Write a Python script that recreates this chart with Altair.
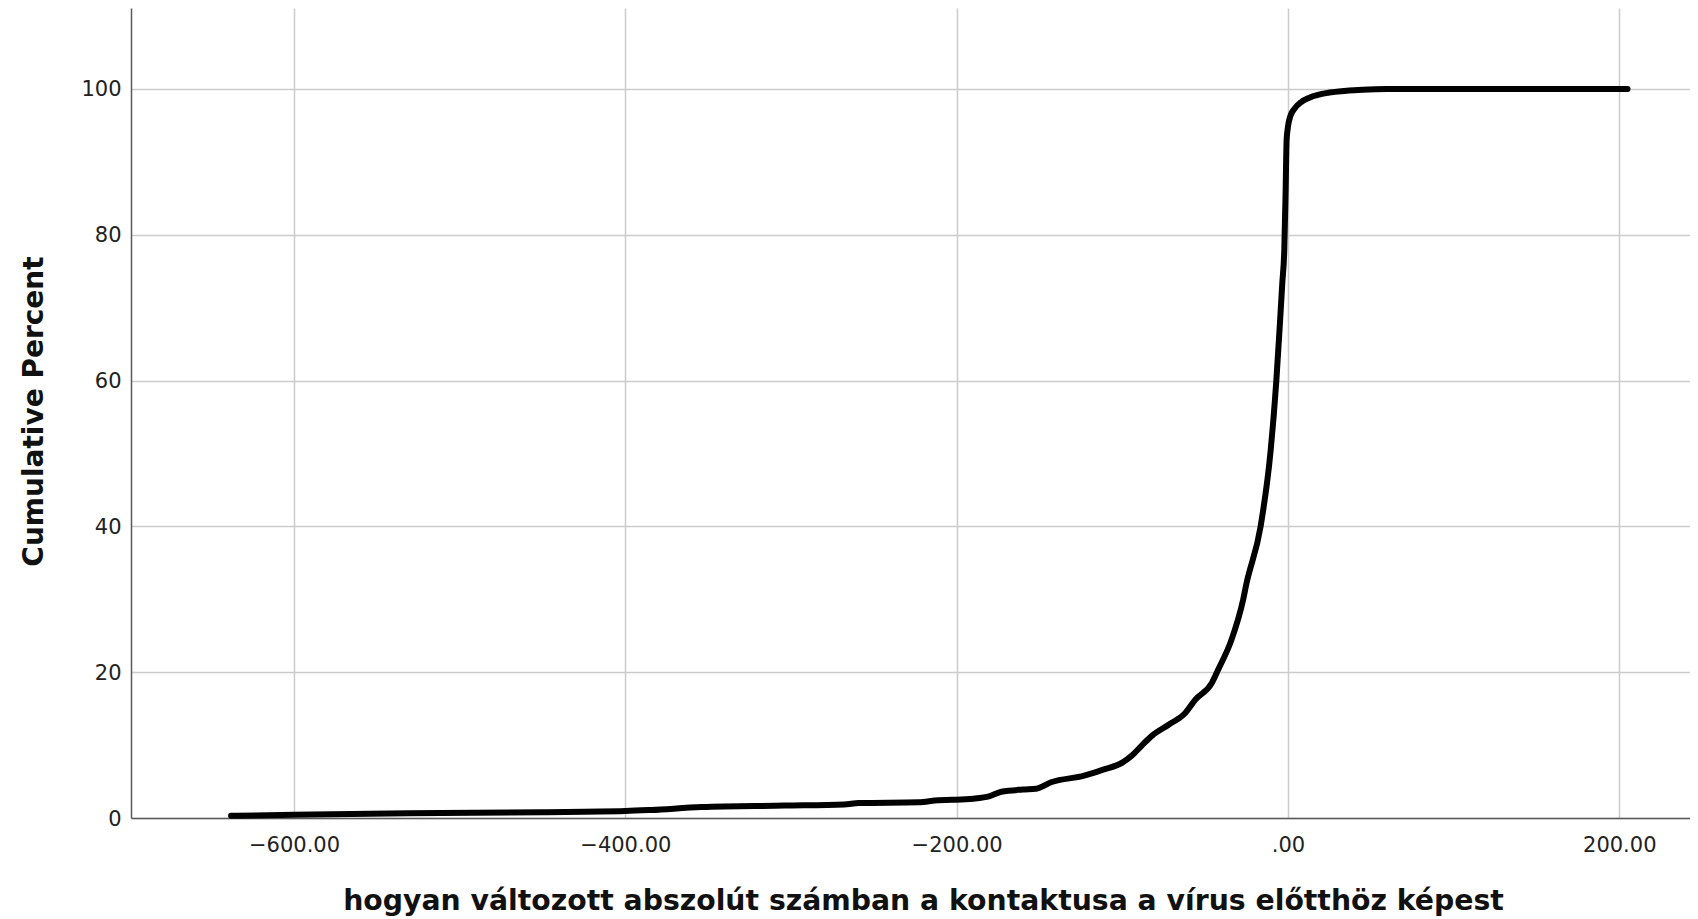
import altair as alt
import pandas as pd

# change in absolute number of contacts (x) and cumulative percent (y)
change_values = [-638, -600, -531, -450, -400, -384, -354, -304, -268, -259,
                 -223, -211, -203, -190, -180, -173, -160, -152, -143, -123,
                 -112, -100, -94, -88, -82, -72, -62, -56, -46, -42,
                 -34, -27, -25, -16.5, -10.4, -7, -4.6, -3.4, -2.2, -1.4,
                 -0.8, 0, 1.5, 4, 8, 13, 25, 45, 60, 205]
cumulative_percent = [0.3, 0.45, 0.65, 0.8, 0.95, 1.1, 1.5, 1.7, 1.85, 2.05,
                      2.15, 2.45, 2.5, 2.65, 3.0, 3.6, 3.9, 4.0, 4.9, 5.8,
                      6.6, 7.6, 8.6, 10.0, 11.3, 12.8, 14.4, 16.2, 18.5, 20.4,
                      24.5, 30.0, 32.2, 40.0, 50.5, 60.0, 68.8, 73.4, 78.0, 86.0,
                      93.0, 94.8, 96.3, 97.3, 98.2, 98.8, 99.5, 99.9, 100.0, 100.0]

x_ticks = [-600, -400, -200, 0, 200]
y_ticks = [0, 20, 40, 60, 80, 100]

x_title = "hogyan változott abszolút számban a kontaktusa a vírus előtthöz képest"
y_title = "Cumulative Percent"

df = pd.DataFrame({"x": change_values, "y": cumulative_percent})

FONT = "DejaVu Sans"

chart = alt.Chart(df).mark_line(
    color="black", strokeWidth=6, interpolate="monotone",
    strokeCap="round", strokeJoin="round"
).encode(
    x=alt.X("x:Q",
            scale=alt.Scale(domain=[-698.4, 242.7], nice=False, zero=False),
            axis=alt.Axis(values=x_ticks, title=x_title,
                          labelExpr="datum.value == 0 ? '.00' : format(datum.value, '.2f')",
                          ticks=False, labelPadding=16, labelFontSize=21, labelFont=FONT,
                          labelColor="#222222", labelFlush=False,
                          titleFont=FONT, titleFontSize=28.3, titleFontWeight="bold",
                          titleColor="#111111", titleX=792, titleY=91,
                          titleBaseline="alphabetic", titleAlign="center",
                          grid=True, gridColor="#cccccc", gridWidth=1.5,
                          domainColor="#5a5a5a", domainWidth=1.5)),
    y=alt.Y("y:Q",
            scale=alt.Scale(domain=[0, 111.1], nice=False, zero=True),
            axis=alt.Axis(values=y_ticks, title=y_title, format="d",
                          ticks=False, labelPadding=10, labelFontSize=21, labelFont=FONT,
                          labelColor="#222222", labelFlush=False, labelOffset=1,
                          titleFont=FONT, titleFontSize=28, titleFontWeight="bold",
                          titleColor="#111111", titleX=-89, titleY=403, titleAngle=270,
                          titleBaseline="alphabetic", titleAlign="center",
                          grid=True, gridColor="#cccccc", gridWidth=1.5,
                          domainColor="#5a5a5a", domainWidth=1.5)),
).properties(
    width=1559, height=810,
    autosize=alt.AutoSizeParams(type="none"),
    padding={"left": 123, "top": 0, "right": 0, "bottom": 101},
).configure_view(stroke=None)

chart.save("out.html", embed_options={"renderer": "svg", "actions": False})
